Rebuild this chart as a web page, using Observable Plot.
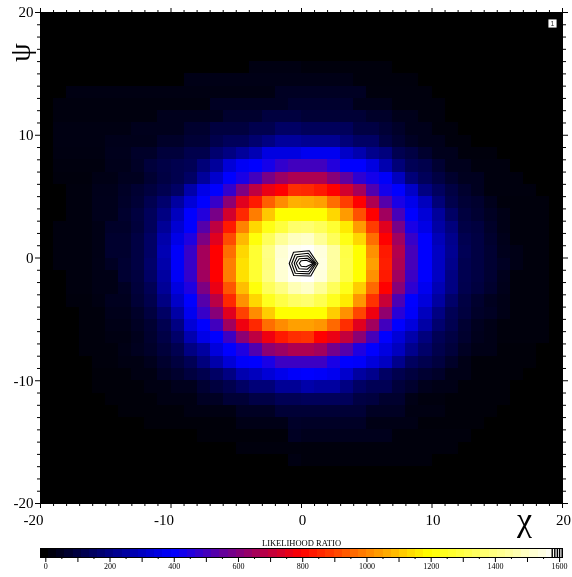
<!DOCTYPE html>
<html>
<head>
<meta charset="utf-8">
<script src="https://cdn.jsdelivr.net/npm/d3@7"></script>
<script src="https://cdn.jsdelivr.net/npm/@observablehq/plot@0.6"></script>
<style>
html,body{margin:0;padding:0;background:#fff}
svg{display:block;will-change:transform}
</style>
</head>
<body>
<div id="chart"></div>
<script>
const blank=[0,0,0,0,0,0,0,0,0,0,0,0,0,0,0,0,0,0,0,0,0,0,0,0,0,0,0,0,0,0,0,0,0,0,0,0,0,0,0,0];
const r04=[0,0,0,0,0,0,0,0,0,0,0,0,0,0,0,0,28,28,28,28, 18,18,18,18,18,18,18,0,0,0,0,0,0,0,0,0,0,0,0,0];
const r05=[0,0,0,0,0,0,0,0,0,0,0,34,34,34,34,34,34,34,34,34, 34,34,34,34,18,18,18,18,18,0,0,0,0,0,0,0,0,0,0,0];
const r06=[0,0,28,28,28,28,28,28,28,28,28,28,28,28,28,28,28,28,54,54, 54,54,54,54,54,20,20,20,20,20,0,0,0,0,0,0,0,0,0,0];
const r07=[0,22,22,22,22,22,22,22,22,22,22,22,22,54,54,54,54,54,54,72, 72,72,72,72,40,40,40,20,20,20,20,0,0,0,0,0,0,0,0,0];
const r08=[0,22,22,22,22,22,22,22,22,44,44,44,44,44,72,72,72,98,98,98, 84,84,84,84,84,64,64,40,40,20,20,0,0,0,0,0,0,0,0,0];
const r09=[0,28,28,28,28,28,28,44,44,44,44,72,72,98,98,98,122,122,156,156, 140,140,140,140,104,104,84,64,40,40,18,18,0,0,0,0,0,0,0,0];
const r10=[0,28,28,28,28,40,40,40,40,64,64,84,84,118,140,140,172,203,242,242, 226,226,226,187,156,156,104,78,54,40,40,18,18,0,0,0,0,0,0,0];
const r11=[0,26,26,26,26,44,44,64,64,92,92,118,118,172,203,242,281,351,351,351, 374,374,374,312,273,218,195,125,104,72,44,44,18,18,18,0,0,0,0,0];
const r12=[0,22,22,22,22,40,40,60,92,110,122,133,187,242,335,382,398,430,476,500, 500,500,453,398,398,351,273,187,133,118,78,44,44,22,22,22,0,0,0,0];
const r13=[0,18,18,18,32,32,48,48,78,104,122,156,240,320,398,437,500,585,640,670, 670,670,609,547,468,429,390,296,187,140,104,72,48,48,22,22,22,0,0,0];
const r14=[0,0,22,22,40,40,60,78,98,125,156,265,360,398,476,593,695,765,796,866, 858,835,796,726,656,523,429,398,312,203,148,104,72,48,22,22,22,22,0,0];
const r15=[0,0,22,22,42,42,64,84,125,170,250,335,398,484,617,749,835,944,1014,1069, 1061,1046,968,890,796,670,530,437,367,296,187,118,84,72,44,18,18,18,18,0];
const r16=[0,0,22,22,42,42,72,98,140,203,296,398,453,585,726,858,991,1108,1194,1194, 1194,1194,1131,1038,921,796,650,507,398,335,242,156,98,78,54,34,18,18,18,0];
const r17=[0,22,22,22,32,64,64,92,140,234,328,398,530,695,835,999,1131,1225,1288,1358, 1366,1334,1272,1163,1038,890,749,585,437,359,257,195,110,98,64,34,18,18,18,0];
const r18=[0,22,22,22,32,72,72,104,156,265,360,445,593,749,913,1085,1210,1334,1428,1490, 1506,1428,1334,1225,1131,968,796,650,484,398,289,218,125,104,72,40,18,18,18,0];
const r19=[0,22,22,22,32,72,72,104,156,280,390,484,656,796,968,1131,1272,1397,1522,1568, 1584,1537,1444,1303,1194,1022,835,677,507,398,304,226,133,104,78,44,34,18,18,0];
const r20=[0,22,22,22,34,54,78,104,164,265,390,484,656,796,991,1147,1272,1390,1530,1576, 1590,1545,1444,1311,1194,1046,843,670,507,398,304,218,125,104,78,54,34,18,18,0];
const r21=[0,0,22,22,32,32,78,98,156,250,385,476,650,796,991,1147,1272,1397,1522,1576, 1590,1537,1428,1303,1194,1022,835,650,492,398,304,203,125,104,78,44,18,18,18,0];
const r22=[0,0,22,22,32,32,54,92,133,234,350,445,593,765,929,1092,1210,1334,1397,1475, 1506,1428,1334,1233,1116,960,796,609,468,374,281,203,122,98,72,40,18,18,18,0];
const r23=[0,0,18,18,28,48,48,84,118,203,312,398,530,687,858,1022,1131,1241,1303,1350, 1366,1319,1241,1163,1030,874,710,515,398,343,250,164,104,72,48,34,18,18,18,0];
const r24=[0,0,0,18,18,40,40,64,98,156,257,374,484,609,749,897,1014,1116,1194,1194, 1194,1194,1116,1022,905,772,625,460,390,296,203,133,98,64,54,34,18,18,18,0];
const r25=[0,0,0,18,18,34,34,54,78,125,203,335,398,500,650,772,858,968,1014,1046, 1046,1030,960,866,749,650,500,398,343,257,172,125,78,48,34,18,18,18,18,0];
const r26=[0,0,0,18,18,28,28,44,72,110,164,273,360,398,492,617,695,772,835,866, 874,796,765,702,617,507,398,335,265,195,133,104,72,44,34,18,18,18,18,0];
const r27=[0,0,0,18,18,18,32,48,64,92,125,203,250,343,398,445,523,617,640,670, 670,650,577,530,445,398,351,296,218,164,118,92,54,34,34,14,14,14,0,0];
const r28=[0,0,0,0,18,18,28,28,44,72,98,133,195,265,335,390,398,437,492,492, 492,492,437,398,390,343,304,218,148,122,98,64,34,14,14,14,14,14,0,0];
const r29=[0,0,0,0,14,14,14,28,28,54,72,98,122,156,203,273,296,335,367,390, 398,390,374,320,250,218,156,122,98,78,64,34,34,14,14,14,14,0,0,0];
const r30=[0,0,0,0,14,14,14,14,28,28,44,44,78,98,122,156,187,187,234,234, 265,250,250,203,156,133,133,92,72,44,34,34,14,14,14,14,0,0,0,0];
const r31=[0,0,0,0,0,14,14,14,14,28,28,28,54,54,84,84,110,110,133,133, 140,140,140,140,104,98,72,72,34,22,22,14,14,14,14,14,0,0,0,0];
const r32=[0,0,0,0,0,0,14,14,14,14,14,28,28,28,28,54,54,54,84,84, 84,84,84,84,84,54,54,54,28,28,28,14,14,14,14,0,0,0,0,0];
const r33=[0,0,0,0,0,0,0,0,14,14,14,14,14,14,14,34,34,34,34,64, 60,60,60,60,60,32,32,32,32,14,14,14,14,14,0,0,0,0,0,0];
const r34=[0,0,0,0,0,0,0,0,0,0,0,0,14,14,14,14,14,14,14,54, 44,44,44,44,44,44,44,18,18,18,18,18,18,0,0,0,0,0,0,0];
const r35=[0,0,0,0,0,0,0,0,0,0,0,0,0,0,0,20,20,20,20,20, 18,18,18,18,18,18,18,18,18,18,18,18,0,0,0,0,0,0,0,0];
const r36=[0,0,0,0,0,0,0,0,0,0,0,0,0,0,0,0,0,0,0,28, 18,18,18,18,18,18,18,18,18,18,0,0,0,0,0,0,0,0,0,0];
const zRows=[blank,blank,blank,blank,r04,r05,r06,r07,r08,r09,r10,r11,r12,r13,r14,r15,r16,r17,r18,r19,r20,r21,r22,r23,r24,r25,r26,r27,r28,r29,r30,r31,r32,r33,r34,r35,r36,blank,blank,blank];
zRows.forEach((r,i)=>{if(r.length!==40)throw new Error("row "+i+" has "+r.length)});

// contour polygons, in chi / psi data units
const contourX=[
 [-0.94,-0.61,0.59,1.26,0.71,-0.59,-0.94],
 [-0.75,-0.48,0.52,1.13,0.59,-0.48,-0.75],
 [-0.56,-0.33,0.48,1.05,0.52,-0.33,-0.56],
 [-0.40,-0.17,0.44,0.98,0.44,-0.17,-0.40],
 [-0.17,-0.02,0.36,0.90,0.36,-0.02,-0.17]];
const contourY=[
 [-0.45,0.47,0.59,-0.45,-1.47,-1.43,-0.45],
 [-0.45,0.27,0.39,-0.45,-1.29,-1.24,-0.45],
 [-0.43,0.10,0.18,-0.43,-1.12,-1.08,-0.43],
 [-0.43,-0.06,-0.02,-0.43,-0.92,-0.88,-0.43],
 [-0.43,-0.22,-0.18,-0.43,-0.71,-0.67,-0.43]];
const contourLevels=[1577,1585,1593,1600,1608];

const majorTicks=[-20,-10,0,10,20];
const minorTicks=[-19,-18,-17,-16,-15,-14,-13,-12,-11,-9,-8,-7,-6,-5,-4,-3,-2,-1,1,2,3,4,5,6,7,8,9,11,12,13,14,15,16,17,18,19];
const barLabels=[0,200,400,600,800,1000,1200,1400,1600];
const barMajor=[0,100,200,300,400,500,600,700,800,900,1000,1100,1200,1300,1400,1500,1600];
const barMinor=[50,150,250,350,450,550,650,750,850,950,1050,1150,1250,1350,1450,1550];
const colorStops=[0,398,796,1194,1590];
const colorNames=["#000000","#0000ff","#ff0000","#ffff00","#ffffff"];

const serif='"Liberation Serif","Times New Roman",serif';
const color={type:"linear",domain:colorStops,range:colorNames,interpolate:"rgb",clamp:true};

const cells=zRows.flatMap((r,j)=>r.map((v,i)=>({x1:i-20,x2:i-19,y1:19-j,y2:20-j,v})));
const contours=contourX.flatMap((xs,k)=>xs.map((x,i)=>({k,x,y:contourY[k][i]})));

const W=572,H1=548,H2=29;
const main=Plot.plot({
  width:W,height:H1,
  marginLeft:40,marginRight:10,marginTop:12,marginBottom:45,
  style:{background:"#fff",fontFamily:serif},
  x:{domain:[-20,20],label:null},
  y:{domain:[-20,20],label:null},
  color,
  marks:[
    Plot.rect(cells,{x1:"x1",x2:"x2",y1:"y1",y2:"y2",fill:"v",shapeRendering:"crispEdges"}),
    Plot.line(contours,{x:"x",y:"y",z:"k",stroke:"#000",strokeWidth:1.1}),
    Plot.frame({stroke:"#000",strokeWidth:1}),
    Plot.axisX({anchor:"bottom",ticks:minorTicks,tickSize:3,tickFormat:()=>"",label:null,stroke:"#000"}),
    Plot.axisX({anchor:"top",ticks:minorTicks,tickSize:3,tickFormat:()=>"",label:null,stroke:"#000"}),
    Plot.axisX({anchor:"bottom",ticks:majorTicks,tickSize:5,tickFormat:()=>"",label:null,stroke:"#000"}),
    Plot.axisX({anchor:"top",ticks:majorTicks,tickSize:5,tickFormat:()=>"",label:null,stroke:"#000"}),
    Plot.axisY({anchor:"left",ticks:minorTicks,tickSize:3,tickFormat:()=>"",label:null,stroke:"#000"}),
    Plot.axisY({anchor:"right",ticks:minorTicks,tickSize:3,tickFormat:()=>"",label:null,stroke:"#000"}),
    Plot.axisY({anchor:"left",ticks:majorTicks,tickSize:5,tickFormat:()=>"",label:null,stroke:"#000"}),
    Plot.axisY({anchor:"right",ticks:majorTicks,tickSize:5,tickFormat:()=>"",label:null,stroke:"#000"}),
    Plot.axisX({anchor:"bottom",ticks:majorTicks.filter(d=>d<0),tickSize:0,tickPadding:11,fontSize:15,dx:-7,tickFormat:d=>String(d),label:null,fill:"#000"}),
    Plot.axisX({anchor:"bottom",ticks:majorTicks.filter(d=>d>=0),tickSize:0,tickPadding:11,fontSize:15,dx:1,tickFormat:d=>String(d),label:null,fill:"#000"}),
    Plot.axisY({anchor:"left",ticks:majorTicks,tickSize:0,tickPadding:7,fontSize:15,dy:0,tickFormat:d=>String(d),label:null,fill:"#000"}),
    Plot.text(["χ"],{frameAnchor:"bottom-right",textAnchor:"middle",lineAnchor:"middle",dx:-38,dy:17,fontSize:34,fontFamily:serif,fill:"#000"}),
    Plot.text(["ψ"],{frameAnchor:"top-left",textAnchor:"middle",lineAnchor:"middle",dx:-20,dy:40,rotate:-90,fontSize:30,fontFamily:serif,fill:"#000"}),
    Plot.dot([0],{frameAnchor:"top-right",dx:-10,dy:11,symbol:"square",r:4.6,fill:"#fff",stroke:"none"}),
    Plot.text(["1"],{frameAnchor:"top-right",textAnchor:"middle",lineAnchor:"middle",dx:-10,dy:11,fontSize:7,fontFamily:"Liberation Sans",fill:"#333"}),
    Plot.text(["LIKELIHOOD RATIO"],{frameAnchor:"bottom",lineAnchor:"middle",dy:40,fontSize:8.5,fontFamily:serif,fill:"#000"})
  ]
});

const barLo=-16.5,barHi=1609,barN=64;
const ramp=d3.range(barN).map(i=>{
  const a=barLo+(barHi-barLo)*i/barN,b=barLo+(barHi-barLo)*(i+1)/barN;
  return {x1:a,x2:b,v:(a+b)/2};
});
const bar=Plot.plot({
  width:W,height:H2,
  marginLeft:40,marginRight:10,marginTop:0,marginBottom:20,
  style:{background:"#fff",fontFamily:serif},
  x:{domain:[barLo,barHi],label:null},
  y:{domain:[0,1],axis:null},
  color,
  marks:[
    Plot.rect(ramp,{x1:"x1",x2:"x2",y1:0,y2:1,fill:"v",shapeRendering:"crispEdges"}),
    Plot.ruleX(contourLevels,{y1:0,y2:1,stroke:"#000",strokeWidth:1.4}),
    Plot.frame({stroke:"#000",strokeWidth:1}),
    Plot.axisX({anchor:"bottom",ticks:barMinor,tickSize:2,tickFormat:()=>"",label:null,stroke:"#000"}),
    Plot.axisX({anchor:"bottom",ticks:barMajor,tickSize:5,tickFormat:()=>"",label:null,stroke:"#000"}),
    Plot.axisX({anchor:"bottom",ticks:barLabels,tickSize:0,tickPadding:6,fontSize:8,tickFormat:d=>String(d),label:null,fill:"#000"})
  ]
});
document.getElementById("chart").append(main,bar);
</script>
</body>
</html>
